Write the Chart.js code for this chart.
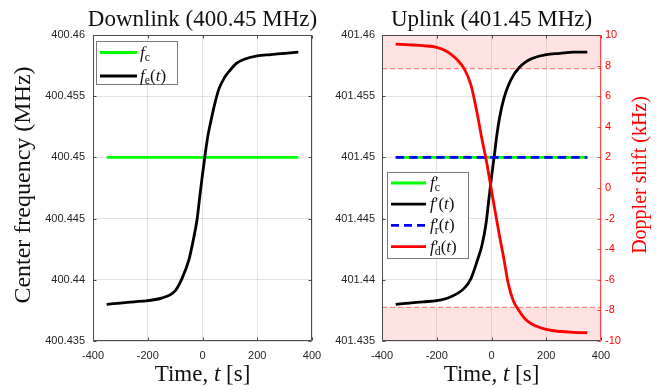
<!DOCTYPE html>
<html>
<head>
<meta charset="utf-8">
<script src="https://cdn.jsdelivr.net/npm/chart.js@4.4.1/dist/chart.umd.min.js"></script>
<style>
  html, body { margin: 0; padding: 0; background: #fff; }
  #wrap { position: relative; width: 665px; height: 390px; }
  canvas { position: absolute; top: 0; }
  #downChart { left: 0; }
  #upChart { left: 332px; }
</style>
</head>
<body>
<div id="wrap">
  <canvas id="downChart" width="332" height="390"></canvas>
  <canvas id="upChart" width="333" height="390"></canvas>
</div>
<script>
// ---------- data ----------
// sample times (s)
const timeS = [-350, -300, -250, -200, -150, -100, -75, -50, -35, -20, -10, 0,
  10, 20, 30, 45, 60, 80, 100, 125, 150, 200, 250, 300, 350];

// downlink: received frequency f_e(t) (MHz)
const downFreq = [400.4380, 400.4381, 400.4382, 400.4383, 400.4385, 400.4391,
  400.4401, 400.4416, 400.4431, 400.4449, 400.4468, 400.4486, 400.4503,
  400.4518, 400.4529, 400.4544, 400.4556, 400.4565, 400.4571, 400.4577,
  400.4580, 400.4583, 400.4584, 400.4585, 400.4586];

// uplink: f'(t) (MHz)
const upFreq = [401.4380, 401.4381, 401.4382, 401.4383, 401.4386, 401.4393,
  401.4401, 401.4417, 401.4428, 401.4446, 401.4465, 401.4484, 401.4501,
  401.4519, 401.4533, 401.4548, 401.4558, 401.4567, 401.4573, 401.4578,
  401.4581, 401.4584, 401.4585, 401.4586, 401.4586];

// uplink Doppler shift f'_d(t) (kHz)
const dopplerKHz = [9.41, 9.36, 9.30, 9.19, 8.77, 7.80, 6.72, 4.66, 3.20, 1.90,
  0.90, -0.15, -1.20, -2.20, -3.20, -4.60, -6.15, -7.38, -8.00, -8.60, -8.92,
  -9.24, -9.38, -9.43, -9.46];

// carrier lines span the same time window
const carrierTime = [-350, 350];
const downCarrier = [400.45, 400.45];
const upCarrier = [401.45, 401.45];
const upReference = [401.45, 401.45];

// Doppler tolerance band edges (kHz)
const bandTime = [-400, 400];
const bandUpper = [7.8, 7.8];
const bandLower = [-7.8, -7.8];

// ticks
const timeTicks = [-400, -200, 0, 200, 400];
const timeTickLabels = ['-400', '-200', '0', '200', '400'];
const downTicks = [400.435, 400.44, 400.445, 400.45, 400.455, 400.46];
const downTickLabels = ['400.435', '400.44', '400.445', '400.45', '400.455', '400.46'];
const upTicks = [401.435, 401.44, 401.445, 401.45, 401.455, 401.46];
const upTickLabels = ['401.435', '401.44', '401.445', '401.45', '401.455', '401.46'];
const dopplerTicks = [-10, -8, -6, -4, -2, 0, 2, 4, 6, 8, 10];
const dopplerTickLabels = ['-10', '-8', '-6', '-4', '-2', '0', '2', '4', '6', '8', '10'];

// ---------- styling helpers ----------
const SERIF = '"Liberation Serif", "Times New Roman", serif';
const SANS = '"Liberation Sans", Arial, sans-serif';
const INK = '#262626';
const GRID = 'rgba(0,0,0,0.11)';
const RED = '#ff0000';
const GREEN = '#00ff00';

const xy = (xs, ys) => xs.map((x, i) => ({ x, y: ys[i] }));

function partFont(p, size) {
  const s = size * (p.sc || 1);
  return `${p.it ? 'italic ' : ''}${s}px ${SERIF}`;
}

// lay out a run of text pieces (italic, sub/superscript, stacked prime)
function layoutRich(ctx, parts, size) {
  let x = 0;
  let held = 0;
  const placed = [];
  parts.forEach(p => {
    ctx.font = partFont(p, size);
    const w = ctx.measureText(p.t).width;
    placed.push({ p, x: x + (p.dx || 0) * size });
    if (p.hold) {
      held = w;
    } else {
      x += Math.max(w, held) + (p.dx || 0) * size;
      held = 0;
    }
  });
  return { placed, width: x };
}

function drawRich(ctx, parts, x, y, size, align) {
  const { placed, width } = layoutRich(ctx, parts, size);
  let x0 = x;
  if (align === 'center') x0 = x - width / 2;
  if (align === 'right') x0 = x - width;
  ctx.textAlign = 'left';
  ctx.textBaseline = 'alphabetic';
  placed.forEach(({ p, x: px }) => {
    ctx.font = partFont(p, size);
    ctx.fillText(p.t, x0 + px, y + (p.dy || 0) * size);
  });
}

const sub = t => ({ t, sc: 0.7, dy: 0.2 });
const prime = { t: '\u2032', hold: true, dx: 0.02 };
const fIt = { t: 'f', it: true };
const ofT = [{ t: '(' }, { t: 't', it: true }, { t: ')' }];

// ---------- plugins ----------
// box, inward tick marks
const axesFrame = {
  id: 'axesFrame',
  afterDraw(chart, args, opts) {
    const { ctx, chartArea: a, scales } = chart;
    const len = 3;
    const L = Math.round(a.left) + 0.5, R = Math.round(a.right) - 0.5;
    const T = Math.round(a.top) + 0.5, B = Math.round(a.bottom) - 0.5;
    ctx.save();
    ctx.lineWidth = 1;
    ctx.strokeStyle = opts.color;
    ctx.beginPath();
    scales.x.ticks.forEach(t => {
      const px = Math.round(scales.x.getPixelForValue(t.value)) + 0.5;
      ctx.moveTo(px, B); ctx.lineTo(px, B - len);
      ctx.moveTo(px, T); ctx.lineTo(px, T + len);
    });
    scales.y.ticks.forEach(t => {
      const py = Math.round(scales.y.getPixelForValue(t.value)) + 0.5;
      ctx.moveTo(L, py); ctx.lineTo(L + len, py);
      if (!scales.y1) { ctx.moveTo(R, py); ctx.lineTo(R - len, py); }
    });
    ctx.moveTo(R, T); ctx.lineTo(L, T); ctx.lineTo(L, B); ctx.lineTo(R, B);
    if (!scales.y1) ctx.lineTo(R, T);
    ctx.stroke();
    if (scales.y1) {
      ctx.strokeStyle = opts.rightColor;
      ctx.beginPath();
      scales.y1.ticks.forEach(t => {
        const py = Math.round(scales.y1.getPixelForValue(t.value)) + 0.5;
        ctx.moveTo(R, py); ctx.lineTo(R - len, py);
      });
      ctx.moveTo(R, T); ctx.lineTo(R, B);
      ctx.stroke();
    }
    ctx.restore();
  }
};

// titles, axis labels and the math legend
const texLabels = {
  id: 'texLabels',
  afterDraw(chart, args, opts) {
    const { ctx, chartArea: a } = chart;
    const cx = (a.left + a.right) / 2;
    ctx.save();
    ctx.fillStyle = '#111';
    drawRich(ctx, [{ t: opts.title }], cx, 26, 23, 'center');
    drawRich(ctx, [{ t: 'Time, ' }, { t: 't', it: true }, { t: ' [s]' }], cx, 381, 23, 'center');
    (opts.vLabels || []).forEach(v => {
      ctx.save();
      ctx.translate(v.x, v.y);
      ctx.rotate(-Math.PI / 2);
      ctx.fillStyle = v.color;
      drawRich(ctx, [{ t: v.text }], 0, 0, v.size, 'center');
      ctx.restore();
    });
    const lg = opts.legend;
    if (lg) {
      ctx.fillStyle = '#fff';
      ctx.fillRect(lg.x, lg.y, lg.w, lg.h);
      ctx.strokeStyle = '#7a7a7a';
      ctx.lineWidth = 1;
      ctx.strokeRect(lg.x + 0.5, lg.y + 0.5, lg.w, lg.h);
      lg.rows.forEach((r, i) => {
        const y = lg.firstRow + i * lg.rowGap;
        ctx.strokeStyle = r.color;
        ctx.lineWidth = 2.8;
        ctx.setLineDash(r.dash || []);
        ctx.beginPath();
        ctx.moveTo(lg.lineX[0], y);
        ctx.lineTo(lg.lineX[1], y);
        ctx.stroke();
        ctx.setLineDash([]);
        ctx.fillStyle = '#111';
        drawRich(ctx, r.label, lg.textX, y + 5, 17, 'left');
      });
    }
    ctx.restore();
  }
};

// ---------- shared options ----------
function timeAxis() {
  return {
    type: 'linear',
    min: -400,
    max: 400,
    afterBuildTicks: s => { s.ticks = timeTicks.map(v => ({ value: v })); },
    afterFit: s => { s.height = 49; },
    ticks: {
      callback: (v, i) => timeTickLabels[i],
      font: { family: SANS, size: 11 },
      color: INK,
      padding: 8,
      maxRotation: 0,
      autoSkip: false
    },
    grid: { color: GRID, drawTicks: false },
    border: { display: false }
  };
}

function freqAxis(ticks, labels, width, pad) {
  return {
    type: 'linear',
    min: ticks[0],
    max: ticks[ticks.length - 1],
    afterBuildTicks: s => { s.ticks = ticks.map(v => ({ value: v })); },
    afterFit: s => { s.width = width; },
    ticks: {
      callback: (v, i) => labels[i],
      font: { family: SANS, size: 11 },
      color: INK,
      padding: pad,
      autoSkip: false
    },
    grid: { color: GRID, drawTicks: false },
    border: { display: false }
  };
}

function curve(data, color, order, extra) {
  return Object.assign({
    data,
    borderColor: color,
    borderWidth: 2.8,
    pointRadius: 0,
    cubicInterpolationMode: 'monotone',
    fill: false,
    order
  }, extra || {});
}

const baseOptions = {
  responsive: false,
  animation: false,
  events: [],
  plugins: { legend: { display: false }, tooltip: { enabled: false } }
};

// ---------- downlink ----------
new Chart(document.getElementById('downChart'), {
  type: 'line',
  data: {
    datasets: [
      curve(xy(timeS, downFreq), '#000', 1),
      curve(xy(carrierTime, downCarrier), GREEN, 2)
    ]
  },
  options: Object.assign({}, baseOptions, {
    layout: { padding: { top: 35, right: 20, left: 0, bottom: 0 } },
    scales: {
      x: timeAxis(),
      y: freqAxis(downTicks, downTickLabels, 93, 8)
    },
    plugins: Object.assign({}, baseOptions.plugins, {
      axesFrame: { color: '#4a4a4a' },
      texLabels: {
        title: 'Downlink (400.45 MHz)',
        vLabels: [{ text: 'Center frequency (MHz)', x: 30, y: 185, size: 24, color: '#111' }],
        legend: {
          x: 96, y: 41, w: 81, h: 43,
          lineX: [100, 137], textX: 140,
          firstRow: 52.5, rowGap: 23.5,
          rows: [
            { color: GREEN, label: [fIt, sub('c')] },
            { color: '#000', label: [fIt, sub('e')].concat(ofT) }
          ]
        }
      }
    })
  }),
  plugins: [axesFrame, texLabels]
});

// ---------- uplink ----------
new Chart(document.getElementById('upChart'), {
  type: 'line',
  data: {
    datasets: [
      curve(xy(timeS, dopplerKHz), RED, 1, { yAxisID: 'y1' }),
      curve(xy(carrierTime, upReference), '#0000ff', 2, { borderDash: [8.5, 5] }),
      curve(xy(timeS, upFreq), '#000', 3),
      curve(xy(carrierTime, upCarrier), GREEN, 4),
      curve(xy(bandTime, bandUpper), 'rgba(255,70,70,0.75)', 5, {
        yAxisID: 'y1', borderWidth: 1, borderDash: [5, 3], fill: 'end',
        backgroundColor: 'rgba(255,0,0,0.11)'
      }),
      curve(xy(bandTime, bandLower), 'rgba(255,70,70,0.75)', 6, {
        yAxisID: 'y1', borderWidth: 1, borderDash: [5, 3], fill: 'start',
        backgroundColor: 'rgba(255,0,0,0.11)'
      })
    ]
  },
  options: Object.assign({}, baseOptions, {
    layout: { padding: { top: 35, right: 0, left: 0, bottom: 0 } },
    scales: {
      x: timeAxis(),
      y: freqAxis(upTicks, upTickLabels, 50, 7),
      y1: {
        type: 'linear',
        position: 'right',
        min: -10,
        max: 10,
        afterBuildTicks: s => { s.ticks = dopplerTicks.map(v => ({ value: v })); },
        afterFit: s => { s.width = 64; },
        ticks: {
          callback: (v, i) => dopplerTickLabels[i],
          font: { family: SANS, size: 11 },
          color: RED,
          padding: 4,
          autoSkip: false
        },
        grid: { drawOnChartArea: false, drawTicks: false },
        border: { display: false }
      }
    },
    plugins: Object.assign({}, baseOptions.plugins, {
      axesFrame: { color: '#4a4a4a', rightColor: 'rgba(255,0,0,0.7)' },
      texLabels: {
        title: 'Uplink (401.45 MHz)',
        vLabels: [{ text: 'Doppler shift (kHz)', x: 314, y: 175, size: 20, color: RED }],
        legend: {
          x: 55, y: 172, w: 81, h: 86,
          lineX: [59, 94], textX: 98,
          firstRow: 183, rowGap: 21.2,
          rows: [
            { color: GREEN, label: [fIt, prime, sub('c')] },
            { color: '#000', label: [fIt, { t: '\u2032' }].concat(ofT) },
            { color: '#0000ff', dash: [8, 5], label: [fIt, prime, sub('r')].concat(ofT) },
            { color: RED, label: [fIt, prime, sub('d')].concat(ofT) }
          ]
        }
      }
    })
  }),
  plugins: [axesFrame, texLabels]
});
</script>
</body>
</html>
